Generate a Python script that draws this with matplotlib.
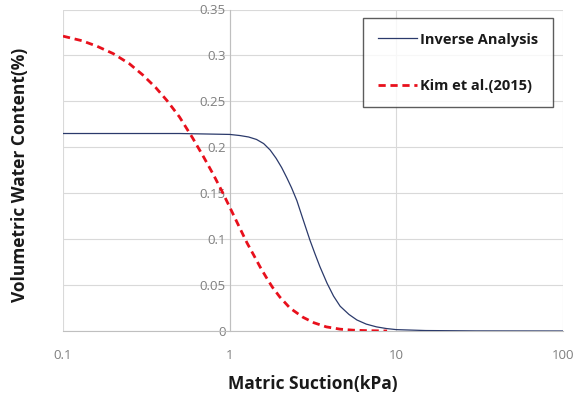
import matplotlib
matplotlib.use("Agg")
import matplotlib.pyplot as plt
from matplotlib.ticker import FixedLocator, FixedFormatter, NullLocator

# Data
inv_x = [0.1, 0.5, 1.0, 1.15, 1.3, 1.45, 1.6, 1.75, 1.9, 2.05, 2.2, 2.35, 2.53, 2.75, 3.03, 3.25, 3.48, 3.84, 4.2, 4.6, 5.2, 5.8, 6.6, 7.6, 8.7, 10, 15, 30, 100]
inv_y = [0.215, 0.215, 0.214, 0.2128, 0.2112, 0.2085, 0.204, 0.197, 0.188, 0.178, 0.167, 0.156, 0.142, 0.122, 0.099, 0.084, 0.070, 0.052, 0.038, 0.027, 0.018, 0.012, 0.0075, 0.0045, 0.0027, 0.0015, 0.0005, 0.0001, 0.0]

kim_x = [0.1, 0.13, 0.16, 0.2, 0.25, 0.30, 0.36, 0.42, 0.5, 0.6, 0.7, 0.8, 0.9, 1.0, 1.13, 1.27, 1.4, 1.52, 1.65, 1.8, 2.0, 2.3, 2.75, 3.2, 3.8, 4.6, 5.5, 6.6, 8.8]
kim_y = [0.321, 0.316, 0.310, 0.302, 0.291, 0.279, 0.265, 0.251, 0.233, 0.210, 0.189, 0.170, 0.152, 0.135, 0.115, 0.096, 0.082, 0.070, 0.059, 0.048, 0.037, 0.025, 0.015, 0.009, 0.0045, 0.002, 0.0009, 0.0004, 0.0]

x_ticks = [0.1, 1, 10, 100]
x_labels = ["0.1", "1", "10", "100"]
y_ticks = [0, 0.05, 0.1, 0.15, 0.2, 0.25, 0.3, 0.35]
y_labels = ["0", "0.05", "0.1", "0.15", "0.2", "0.25", "0.3", "0.35"]

plt.rcParams['font.family'] = ['Open Sans', 'DejaVu Sans']

fig = plt.figure(figsize=(5.83, 3.98), dpi=100)
ax = fig.add_axes([63/583, 1-331/398, 500/583, 321.5/398])

ax.set_xscale('log')
ax.set_xlim(0.1, 100)
ax.set_ylim(0, 0.35)

ax.plot(inv_x, inv_y, color='#2b3a6b', lw=0.9, label='Inverse Analysis', zorder=3)
ax.plot(kim_x, kim_y, color='#e8101c', lw=2.0, dashes=(2.6, 1.7), label='Kim et al.(2015)', zorder=4)

ax.xaxis.set_major_locator(FixedLocator(x_ticks))
ax.xaxis.set_major_formatter(FixedFormatter(x_labels))
ax.xaxis.set_minor_locator(NullLocator())
ax.yaxis.set_major_locator(FixedLocator(y_ticks))
ax.yaxis.set_major_formatter(FixedFormatter(y_labels))

ax.grid(True, which='major', color='#d9d9d9', lw=0.8)
ax.set_axisbelow(True)

for s in ['top', 'right']:
    ax.spines[s].set_visible(False)
ax.spines['left'].set_position(('data', 1))
ax.spines['left'].set_color('#bfbfbf')
ax.spines['left'].set_linewidth(0.8)
ax.spines['bottom'].set_color('#bfbfbf')
ax.spines['bottom'].set_linewidth(0.8)

ax.tick_params(axis='both', which='both', length=0, labelsize=9.5, labelcolor='#7f7f7f')
ax.tick_params(axis='x', pad=13)
ax.tick_params(axis='y', pad=3)

ax.set_xlabel('Matric Suction(kPa)', fontsize=12.5, fontweight='bold', color='#1a1a1a', labelpad=9)
fig.text(20/583, 1-175/398, 'Volumetric Water Content(%)', rotation=90, fontsize=12.5,
         fontweight='bold', color='#1a1a1a', ha='center', va='center')

leg = ax.legend(loc='upper right', bbox_to_anchor=(553/583, 1-18/398), bbox_transform=fig.transFigure,
                fontsize=10.5, frameon=True, fancybox=False, edgecolor='#333333',
                handlelength=2.7, handletextpad=0.2, labelspacing=2.2, borderpad=1.0,
                borderaxespad=0)
leg.get_frame().set_linewidth(1.0)
for t in leg.get_texts():
    t.set_fontweight('bold')
    t.set_color('#1a1a1a')

fig.savefig('out.png', dpi=100)
